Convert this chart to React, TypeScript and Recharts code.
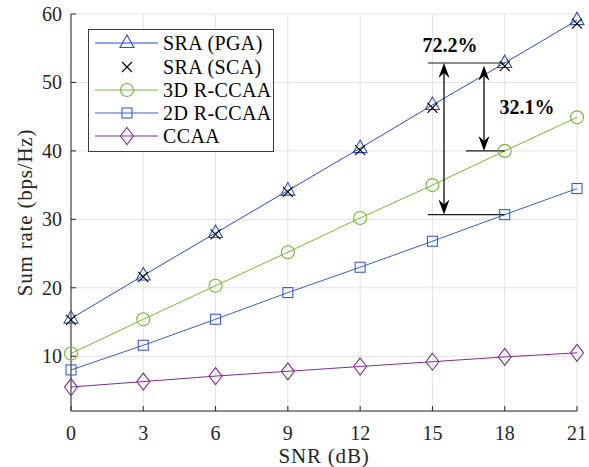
import React from 'react';
import {
  LineChart,
  Line,
  XAxis,
  YAxis,
  CartesianGrid,
  ReferenceLine,
  ReferenceDot,
  Legend,
  Label,
} from 'recharts';

// SNR sweep (dB)
const snr = [0, 3, 6, 9, 12, 15, 18, 21];

// Sum rate (bps/Hz) per scheme
const sraPga = [15.5, 21.8, 28.0, 34.2, 40.4, 46.7, 52.84, 59.1];
const sraSca = [15.3, 21.6, 27.8, 34.0, 40.1, 46.3, 52.4, 58.6];
const rccaa3d = [10.4, 15.4, 20.3, 25.2, 30.2, 35.0, 40.0, 44.9];
const rccaa2d = [8.0, 11.6, 15.4, 19.3, 23.0, 26.8, 30.69, 34.5];
const ccaa = [5.5, 6.3, 7.1, 7.8, 8.5, 9.2, 9.9, 10.5];

const xTicks = [0, 3, 6, 9, 12, 15, 18, 21];
const yTicks = [10, 20, 30, 40, 50, 60];

// Gain annotations at SNR = 18 dB
const gainVsR2d = '72.2%';
const gainVsR3d = '32.1%';

const data = snr.map((s, i) => ({
  snr: s,
  pga: sraPga[i],
  sca: sraSca[i],
  r3d: rccaa3d[i],
  r2d: rccaa2d[i],
  ccaa: ccaa[i],
}));

const FONT = "'Liberation Serif', 'Times New Roman', serif";
const AXIS = '#262626';
const GRID = '#e3e3e3';
const BLUE = '#2c4fbf';
const BLUE2 = '#3a60c8';
const GREEN = '#79b63a';
const PURPLE = '#7d2f8f';

type MarkerKind = 'triangle' | 'cross' | 'circle' | 'square' | 'diamond';

const series: { key: string; name: string; color: string; marker: MarkerKind; line: boolean }[] = [
  { key: 'pga', name: 'SRA (PGA)', color: BLUE, marker: 'triangle', line: true },
  { key: 'sca', name: 'SRA (SCA)', color: '#000000', marker: 'cross', line: false },
  { key: 'r3d', name: '3D R-CCAA', color: GREEN, marker: 'circle', line: true },
  { key: 'r2d', name: '2D R-CCAA', color: BLUE2, marker: 'square', line: true },
  { key: 'ccaa', name: 'CCAA', color: PURPLE, marker: 'diamond', line: true },
];

function Marker({ kind, cx, cy, color }: { kind: MarkerKind; cx: number; cy: number; color: string }) {
  const common = { fill: 'none', stroke: color, strokeWidth: 1.1 };
  switch (kind) {
    case 'triangle':
      return <polygon points={`${cx},${cy - 8} ${cx - 7},${cy + 4.5} ${cx + 7},${cy + 4.5}`} {...common} />;
    case 'cross':
      return (
        <path
          d={`M${cx - 5},${cy - 5}L${cx + 5},${cy + 5}M${cx - 5},${cy + 5}L${cx + 5},${cy - 5}`}
          {...common}
        />
      );
    case 'circle':
      return <circle cx={cx} cy={cy} r={6.5} {...common} />;
    case 'square':
      return <rect x={cx - 5} y={cy - 5} width={10} height={10} {...common} />;
    case 'diamond':
      return <polygon points={`${cx},${cy - 8.5} ${cx + 6.5},${cy} ${cx},${cy + 8.5} ${cx - 6.5},${cy}`} {...common} />;
  }
  return null;
}

function makeDot(kind: MarkerKind, color: string) {
  return (p: any) => {
    if (p.cx == null || p.cy == null) return <g key={`d-${p.index}`} />;
    return (
      <g key={`d-${kind}-${p.index}`}>
        <Marker kind={kind} cx={p.cx} cy={p.cy} color={color} />
      </g>
    );
  };
}

function LegendBox() {
  const w = 186;
  const h = 123;
  const rows = [14, 38, 61, 84, 107];
  return (
    <svg width={w} height={h} style={{ display: 'block', overflow: 'visible' }}>
      <rect x={0.5} y={0.5} width={w - 1} height={h - 1} fill="#ffffff" stroke="#3c3c3c" strokeWidth={1} />
      {series.map((s, i) => (
        <g key={s.key}>
          {s.line && <line x1={7} y1={rows[i]} x2={70} y2={rows[i]} stroke={s.color} strokeWidth={1} />}
          <Marker kind={s.marker} cx={39} cy={rows[i]} color={s.color} />
          <text
            x={75}
            y={rows[i]}
            dy="0.35em"
            fontFamily={FONT}
            fontSize={20}
            fill="#000"
            letterSpacing={0.4}
          >
            {s.name}
          </text>
        </g>
      ))}
    </svg>
  );
}

const BottomTick = (p: any) => (
  <g>
    <line x1={p.x} y1={p.y} x2={p.x} y2={p.y - 5} stroke={AXIS} strokeWidth={1} />
    <text x={p.x} y={p.y + 29} textAnchor="middle" fontFamily={FONT} fontSize={20} fill={AXIS}>
      {p.payload.value}
    </text>
  </g>
);

const TopTick = (p: any) => (
  <line x1={p.x} y1={p.y} x2={p.x} y2={p.y + 5} stroke={AXIS} strokeWidth={1} />
);

const LeftTick = (p: any) => (
  <g>
    <line x1={p.x} y1={p.y} x2={p.x + 5} y2={p.y} stroke={AXIS} strokeWidth={1} />
    <text x={p.x - 9} y={p.y} dy="0.35em" textAnchor="end" fontFamily={FONT} fontSize={20} fill={AXIS}>
      {p.payload.value}
    </text>
  </g>
);

const RightTick = (p: any) => (
  <line x1={p.x} y1={p.y} x2={p.x - 5} y2={p.y} stroke={AXIS} strokeWidth={1} />
);

// Line with stealth-style arrowheads on both ends
function DoubleArrow(p: any) {
  const { x1, y1, x2, y2 } = p;
  const dx = x2 - x1;
  const dy = y2 - y1;
  const len = Math.sqrt(dx * dx + dy * dy) || 1;
  const ux = dx / len;
  const uy = dy / len;
  const nx = -uy;
  const ny = ux;
  const L = 15;
  const W = 5.5;
  const notch = 10;
  const head = (tx: number, ty: number, sx: number, sy: number) => {
    const bx = tx - sx * L;
    const by = ty - sy * L;
    const mx = tx - sx * notch;
    const my = ty - sy * notch;
    return `M${tx},${ty}L${bx + nx * W},${by + ny * W}L${mx},${my}L${bx - nx * W},${by - ny * W}Z`;
  };
  return (
    <g>
      <line
        x1={x1 + ux * notch}
        y1={y1 + uy * notch}
        x2={x2 - ux * notch}
        y2={y2 - uy * notch}
        stroke="#1a1a1a"
        strokeWidth={1.4}
      />
      <path d={head(x2, y2, ux, uy)} fill="#000" />
      <path d={head(x1, y1, -ux, -uy)} fill="#000" />
    </g>
  );
}

const gainText = (label: string) => (p: any) => (
  <text
    x={p.cx}
    y={p.cy}
    dy="0.35em"
    textAnchor="middle"
    fontFamily={FONT}
    fontSize={20}
    fontWeight="bold"
    fill="#000"
  >
    {label}
  </text>
);

export default function App() {
  return (
    <div style={{ position: 'absolute', left: 0, top: 0, width: 589, height: 467, overflow: 'hidden' }}>
      <LineChart
        width={589}
        height={467}
        data={data}
        margin={{ top: 14, right: 12, left: 0, bottom: 0 }}
        style={{ background: '#ffffff' }}
      >
        <CartesianGrid stroke={GRID} strokeWidth={1} />
        <XAxis
          dataKey="snr"
          type="number"
          domain={[0, 21]}
          ticks={xTicks}
          height={56}
          tickSize={0}
          tickMargin={0}
          tick={BottomTick}
          axisLine={{ stroke: AXIS, strokeWidth: 1 }}
          tickLine={false}
          interval={0}
        >
          <Label
            content={(lp: any) => {
              const vb = lp.viewBox;
              return (
                <text
                  x={vb.x + vb.width / 2}
                  y={vb.y + 52}
                  textAnchor="middle"
                  fontFamily={FONT}
                  fontSize={21}
                  letterSpacing={0.8}
                  fill={AXIS}
                >
                  SNR (dB)
                </text>
              );
            }}
          />
        </XAxis>
        <XAxis
          xAxisId="top"
          orientation="top"
          dataKey="snr"
          type="number"
          domain={[0, 21]}
          ticks={xTicks}
          height={0}
          tickSize={0}
          tickMargin={0}
          tick={TopTick}
          axisLine={{ stroke: '#3a3a3a', strokeWidth: 1 }}
          tickLine={false}
          interval={0}
        />
        <YAxis
          type="number"
          domain={[2, 60]}
          ticks={yTicks}
          width={71}
          tickSize={0}
          tickMargin={0}
          tick={LeftTick}
          axisLine={{ stroke: AXIS, strokeWidth: 1 }}
          tickLine={false}
          interval={0}
        >
          <Label
            content={(lp: any) => {
              const vb = lp.viewBox;
              const cx = vb.x + 25;
              const cy = vb.y + vb.height / 2;
              return (
                <text
                  x={cx}
                  y={cy}
                  transform={`rotate(-90, ${cx}, ${cy})`}
                  textAnchor="middle"
                  dominantBaseline="central"
                  fontFamily={FONT}
                  fontSize={21}
                  letterSpacing={0.8}
                  fill={AXIS}
                >
                  Sum rate (bps/Hz)
                </text>
              );
            }}
          />
        </YAxis>
        <YAxis
          yAxisId="right"
          orientation="right"
          type="number"
          domain={[2, 60]}
          ticks={yTicks}
          width={0}
          tickSize={0}
          tickMargin={0}
          tick={RightTick}
          axisLine={{ stroke: '#6a6a6a', strokeWidth: 1.2 }}
          tickLine={false}
          interval={0}
        />

        {series.map((s) => (
          <Line
            key={s.key}
            dataKey={s.key}
            name={s.name}
            type="linear"
            stroke={s.line ? s.color : 'none'}
            strokeWidth={1}
            dot={makeDot(s.marker, s.color)}
            activeDot={false}
            isAnimationActive={false}
          />
        ))}

        {/* 72.2% gain bracket: SRA (PGA) vs 2D R-CCAA at 18 dB */}
        <ReferenceLine
          segment={[
            { x: 14.81, y: sraPga[6] },
            { x: 18, y: sraPga[6] },
          ]}
          stroke="#1a1a1a"
          strokeWidth={1.2}
        />
        <ReferenceLine
          segment={[
            { x: 14.81, y: rccaa2d[6] },
            { x: 18, y: rccaa2d[6] },
          ]}
          stroke="#1a1a1a"
          strokeWidth={1.2}
        />
        <ReferenceLine
          segment={[
            { x: 15.48, y: sraPga[6] },
            { x: 15.48, y: rccaa2d[6] },
          ]}
          shape={DoubleArrow}
        />

        {/* 32.1% gain bracket: SRA (PGA) vs 3D R-CCAA at 18 dB */}
        <ReferenceLine
          segment={[
            { x: 16.39, y: rccaa3d[6] },
            { x: 18, y: rccaa3d[6] },
          ]}
          stroke="#1a1a1a"
          strokeWidth={1.2}
        />
        <ReferenceLine
          segment={[
            { x: 17.14, y: 52.45 },
            { x: 17.14, y: rccaa3d[6] },
          ]}
          shape={DoubleArrow}
        />

        <ReferenceDot x={15.73} y={55.47} r={0} shape={gainText(gainVsR2d)} />
        <ReferenceDot x={18.92} y={46.4} r={0} shape={gainText(gainVsR3d)} />

        <Legend
          layout="vertical"
          verticalAlign="middle"
          align="center"
          content={() => <LegendBox />}
          wrapperStyle={{ position: 'absolute', left: 88, top: 29, width: 186, height: 123, bottom: 'auto', right: 'auto' }}
        />
      </LineChart>
    </div>
  );
}
